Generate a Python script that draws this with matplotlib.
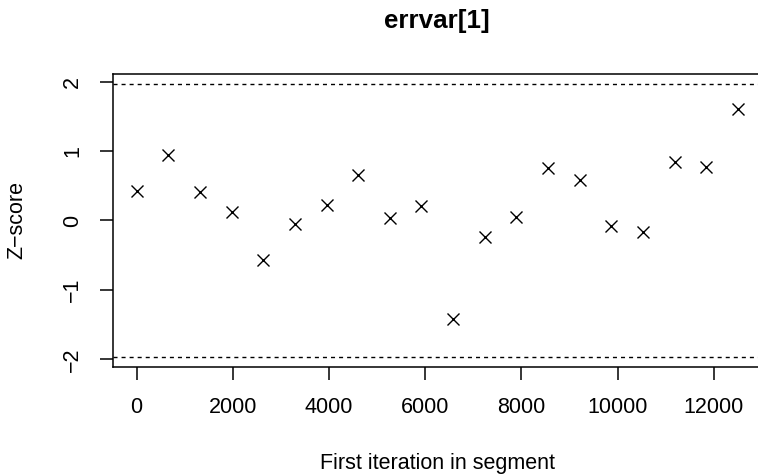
import matplotlib
matplotlib.use("Agg")
import matplotlib.pyplot as plt
import matplotlib.ticker as ticker

plt.rcParams["font.family"] = ["Liberation Sans", "DejaVu Sans"]
plt.rcParams["lines.scale_dashes"] = False

# first iteration of each segment and its Geweke z-score
first_iter = [0, 658, 1316, 1974, 2632, 3289, 3947, 4605, 5263, 5921,
              6579, 7237, 7895, 8553, 9211, 9868, 10526, 11184, 11842, 12500]
z_scores = [0.43, 0.95, 0.41, 0.125, -0.567, -0.048, 0.226, 0.66, 0.039, 0.206,
            -1.42, -0.24, 0.048, 0.754, 0.576, -0.077, -0.168, 0.846, 0.768, 1.604]
x_ticks = [0, 2000, 4000, 6000, 8000, 10000, 12000]
y_ticks = [-2, -1, 0, 1, 2]
crit = 1.96

W, H = 758, 475
fig = plt.figure(figsize=(W / 100, H / 100), dpi=100)
ax = fig.add_axes([112.6 / W, (H - 367.3) / H, (762 - 112.6) / W, (367.3 - 74) / H])

ax.plot(first_iter, z_scores, linestyle="none", marker="x", color="black",
        markersize=8.5, markeredgewidth=1.0)
for c in (crit, -crit):
    ax.axhline(c, color="black", linewidth=1.0, dashes=(2.9, 2.9))

ax.set_xlim(-500, 13000)
ax.set_ylim(-2.115, 2.11)
ax.xaxis.set_major_locator(ticker.FixedLocator(x_ticks))
ax.xaxis.set_major_formatter(ticker.FixedFormatter([str(t) for t in x_ticks]))
ax.yaxis.set_major_locator(ticker.FixedLocator(y_ticks))

for s in ax.spines.values():
    s.set_linewidth(1.1)
ax.tick_params(axis="both", length=9.4, width=1.1, labelsize=15.5, pad=12)
ax.tick_params(axis="y", labelrotation=90)
for lab in ax.get_yticklabels():
    lab.set_va("center")

fig.text(437, H - 28, "errvar[1]", transform=None, ha="center", va="baseline",
         fontsize=18.7, fontweight="bold")
fig.text(437, H - 469, "First iteration in segment", transform=None,
         ha="center", va="baseline", fontsize=15.5)
fig.text(17, H - 220, "Z\u2212score", transform=None, ha="center", va="center",
         rotation=90, fontsize=15.5)

fig.savefig("out.png", dpi=100)
